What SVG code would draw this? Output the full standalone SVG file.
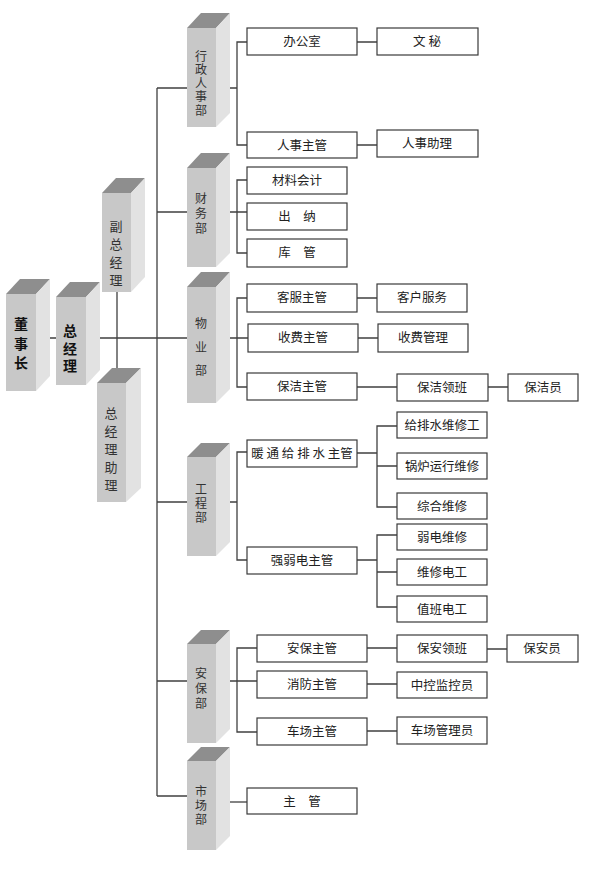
<svg xmlns="http://www.w3.org/2000/svg" width="590" height="879" viewBox="0 0 590 879">
<style>
.front{fill:#c8c8c8}
.top{fill:#8e8e8e}
.side{fill:#e2e2e2}
.box{fill:#ffffff;stroke:#3a3a3a;stroke-width:1.2}
.ln{fill:none;stroke:#404040;stroke-width:1.3}
.t{font-family:"Noto Sans CJK SC","Noto Sans",sans-serif;font-size:12.5px;fill:#222;text-anchor:middle}
.v{font-family:"Noto Sans CJK SC","Noto Sans",sans-serif;font-size:12px;fill:#333;text-anchor:middle;writing-mode:vertical-rl}
.b{font-family:"Noto Sans CJK SC","Noto Sans",sans-serif;font-size:14px;font-weight:bold;fill:#111;text-anchor:middle;writing-mode:vertical-rl}
</style>
<rect width="590" height="879" fill="#ffffff"/>

<g id="connectors">
<path class="ln" d="M36 338H56M86 338H187M117 292V377"/>
<path class="ln" d="M157 88V796M157 88H187M157 212H187M157 502H187M157 681H187M157 796H187"/>
<path class="ln" d="M230 88H237M247 42H237V145H247M357 42H377M357 145H377"/>
<path class="ln" d="M230 212H247M247 180H237V253H247"/>
<path class="ln" d="M217 338H248M247 298H237V387H247M357 298H377M358 338H378M357 387H397M488 387H508"/>
<path class="ln" d="M230 502H237M247 452H237V560H247"/>
<path class="ln" d="M357 453H377M397 426H377V507H397M377 466H397"/>
<path class="ln" d="M357 560H377M397 535H377V607H397M377 572H397"/>
<path class="ln" d="M217 681H257M257 648H237V732H257M367 648H397M487 649H507M367 684H397M367 731H397"/>
<path class="ln" d="M217 802H247"/>
</g>

<g id="n-dongshizhang">
<polygon class="top" points="6,294 36,294 50,279 20,279"/>
<polygon class="side" points="36,294 50,279 50,376 36,391"/>
<rect class="front" x="6" y="294" width="30" height="97"/>
<text class="b" x="21" y="346" style="letter-spacing:5.5px">董事长</text>
</g>

<g id="n-zongjingli">
<polygon class="top" points="56,297 86,297 100,282 70,282"/>
<polygon class="side" points="86,297 100,282 100,370 86,385"/>
<rect class="front" x="56" y="297" width="30" height="88"/>
<text class="b" x="70" y="350" style="letter-spacing:3.5px">总经理</text>
</g>

<g id="n-fuzongjingli">
<polygon class="top" points="102,193 131,193 145,178 116,178"/>
<polygon class="side" points="131,193 145,178 145,277 131,292"/>
<rect class="front" x="102" y="193" width="29" height="99"/>
<text class="v" x="116" y="256" style="font-size:13px;letter-spacing:5px">副总经理</text>
</g>

<g id="n-zongjinglizhuli">
<polygon class="top" points="97,383 126,383 141,368 112,368"/>
<polygon class="side" points="126,383 141,368 141,488 126,502"/>
<rect class="front" x="97" y="383" width="29" height="119"/>
<text class="v" x="111" y="452" style="font-size:13px;letter-spacing:5px">总经理助理</text>
</g>

<g id="d-xingzheng">
<polygon class="top" points="187,28 216,28 230,13 201,13"/>
<polygon class="side" points="216,28 230,13 230,113 216,127"/>
<rect class="front" x="187" y="28" width="29" height="99"/>
<text class="v" x="201" y="84" style="letter-spacing:1.5px">行政人事部</text>
</g>

<g id="d-caiwu">
<polygon class="top" points="187,168 216,168 230,153 201,153"/>
<polygon class="side" points="216,168 230,153 230,253 216,267"/>
<rect class="front" x="187" y="168" width="29" height="99"/>
<text class="v" x="201" y="215" style="letter-spacing:3px">财务部</text>
</g>

<g id="d-wuye">
<polygon class="top" points="187,287 216,287 230,272 201,272"/>
<polygon class="side" points="216,287 230,272 230,389 216,403"/>
<rect class="front" x="187" y="287" width="29" height="116"/>
<text class="v" x="201" y="353" style="letter-spacing:11.5px">物业部</text>
</g>

<g id="d-gongcheng">
<polygon class="top" points="187,457 216,457 230,443 201,443"/>
<polygon class="side" points="216,457 230,443 230,542 216,556"/>
<rect class="front" x="187" y="457" width="29" height="99"/>
<text class="v" x="201" y="504" style="letter-spacing:2px">工程部</text>
</g>

<g id="d-anbao">
<polygon class="top" points="187,644 216,644 230,630 201,630"/>
<polygon class="side" points="216,644 230,630 230,729 216,743"/>
<rect class="front" x="187" y="644" width="29" height="99"/>
<text class="v" x="201" y="690" style="letter-spacing:3px">安保部</text>
</g>

<g id="d-shichang">
<polygon class="top" points="187,761 216,761 230,747 201,747"/>
<polygon class="side" points="216,761 230,747 230,836 216,850"/>
<rect class="front" x="187" y="761" width="29" height="89"/>
<text class="v" x="201" y="806" style="letter-spacing:2px">市场部</text>
</g>

<g id="b-bangongshi"><rect class="box" x="247" y="28" width="110" height="27"/><text class="t" x="302" y="46">办公室</text></g>
<g id="b-wenmi"><rect class="box" x="377" y="28" width="101" height="27"/><text class="t" x="427" y="46">文 秘</text></g>
<g id="b-renshizhuguan"><rect class="box" x="247" y="132" width="110" height="26"/><text class="t" x="302" y="150">人事主管</text></g>
<g id="b-renshizhuli"><rect class="box" x="377" y="130" width="101" height="27"/><text class="t" x="427" y="148">人事助理</text></g>

<g id="b-cailiao"><rect class="box" x="247" y="167" width="100" height="27"/><text class="t" x="297" y="185">材料会计</text></g>
<g id="b-chuna"><rect class="box" x="247" y="203" width="100" height="27"/><text class="t" x="297" y="221">出　纳</text></g>
<g id="b-kuguan"><rect class="box" x="247" y="239" width="100" height="28"/><text class="t" x="297" y="257">库　管</text></g>

<g id="b-kefu"><rect class="box" x="247" y="284" width="110" height="28"/><text class="t" x="302" y="302">客服主管</text></g>
<g id="b-kehufuwu"><rect class="box" x="377" y="284" width="90" height="28"/><text class="t" x="422" y="302">客户服务</text></g>
<g id="b-shoufei"><rect class="box" x="248" y="324" width="110" height="28"/><text class="t" x="303" y="342">收费主管</text></g>
<g id="b-shoufeiguanli"><rect class="box" x="378" y="324" width="90" height="28"/><text class="t" x="423" y="342">收费管理</text></g>
<g id="b-baojie"><rect class="box" x="247" y="373" width="110" height="27"/><text class="t" x="302" y="391">保洁主管</text></g>
<g id="b-baojielingban"><rect class="box" x="397" y="374" width="91" height="27"/><text class="t" x="442" y="392">保洁领班</text></g>
<g id="b-baojieyuan"><rect class="box" x="508" y="374" width="70" height="27"/><text class="t" x="543" y="392">保洁员</text></g>

<g id="b-nuantong"><rect class="box" x="247" y="440" width="110" height="27"/><text class="t" x="302" y="458">暖 通 给 排 水 主管</text></g>
<g id="b-geipaishui"><rect class="box" x="397" y="412" width="90" height="26"/><text class="t" x="442" y="430">给排水维修工</text></g>
<g id="b-guolu"><rect class="box" x="397" y="453" width="90" height="26"/><text class="t" x="442" y="471" textLength="74" lengthAdjust="spacingAndGlyphs">锅炉运行维修</text></g>
<g id="b-zonghe"><rect class="box" x="397" y="493" width="90" height="26"/><text class="t" x="442" y="511">综合维修</text></g>
<g id="b-qiangruodian"><rect class="box" x="247" y="547" width="110" height="27"/><text class="t" x="302" y="565">强弱电主管</text></g>
<g id="b-ruodian"><rect class="box" x="397" y="524" width="90" height="26"/><text class="t" x="442" y="542">弱电维修</text></g>
<g id="b-weixiudiangong"><rect class="box" x="397" y="559" width="90" height="26"/><text class="t" x="442" y="577">维修电工</text></g>
<g id="b-zhiban"><rect class="box" x="397" y="596" width="90" height="26"/><text class="t" x="442" y="614">值班电工</text></g>

<g id="b-anbaozhuguan"><rect class="box" x="257" y="635" width="110" height="27"/><text class="t" x="312" y="653">安保主管</text></g>
<g id="b-baoanlingban"><rect class="box" x="397" y="635" width="90" height="27"/><text class="t" x="442" y="653">保安领班</text></g>
<g id="b-baoanyuan"><rect class="box" x="507" y="635" width="71" height="27"/><text class="t" x="542" y="653">保安员</text></g>
<g id="b-xiaofang"><rect class="box" x="257" y="671" width="110" height="27"/><text class="t" x="312" y="689">消防主管</text></g>
<g id="b-zhongkong"><rect class="box" x="397" y="672" width="90" height="26"/><text class="t" x="442" y="690">中控监控员</text></g>
<g id="b-chechang"><rect class="box" x="257" y="718" width="110" height="27"/><text class="t" x="312" y="736">车场主管</text></g>
<g id="b-chechangguanli"><rect class="box" x="397" y="717" width="90" height="27"/><text class="t" x="442" y="735">车场管理员</text></g>

<g id="b-zhuguan"><rect class="box" x="247" y="788" width="110" height="26"/><text class="t" x="302" y="806">主　管</text></g>
</svg>
